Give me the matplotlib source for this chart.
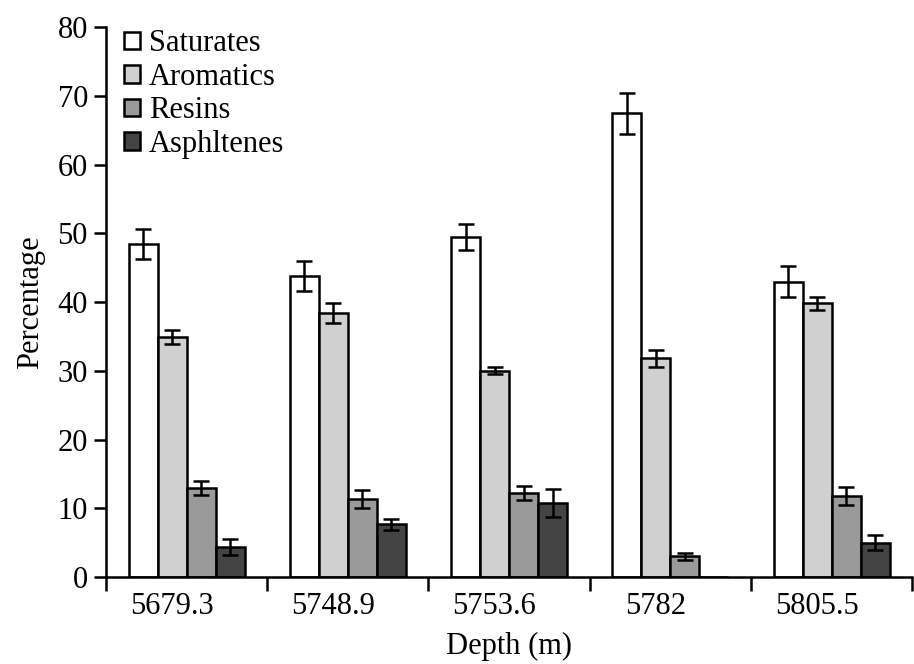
import numpy as np
import matplotlib

matplotlib.use("Agg")
import matplotlib.pyplot as plt
from matplotlib.transforms import ScaledTranslation

plt.rcParams["font.family"] = ["Liberation Serif", "DejaVu Serif"]

depths = ["5679.3", "5748.9", "5753.6", "5782", "5805.5"]
fractions = ["Saturates", "Aromatics", "Resins", "Asphltenes"]

saturates = [48.5, 43.8, 49.5, 67.5, 43.0]
saturates_err = [2.2, 2.2, 1.9, 3.0, 2.3]
aromatics = [34.9, 38.4, 30.0, 31.8, 39.8]
aromatics_err = [1.0, 1.4, 0.5, 1.3, 1.0]
resins = [13.0, 11.4, 12.2, 3.0, 11.8]
resins_err = [1.0, 1.3, 1.0, 0.5, 1.3]
asphaltenes = [4.4, 7.7, 10.8, 0.0, 5.0]
asphaltenes_err = [1.2, 0.8, 2.0, 0.0, 1.1]

values = [saturates, aromatics, resins, asphaltenes]
errors = [saturates_err, aromatics_err, resins_err, asphaltenes_err]
colors = ["white", "#d0d0d0", "#9a9a9a", "#444444"]

fig = plt.figure(figsize=(9.14, 6.64), dpi=100)
ax = fig.add_axes([0.116, 0.131, 0.882, 0.828])

x = np.arange(len(depths))
w = 0.18
for i, (vals, errs, c, lab) in enumerate(zip(values, errors, colors, fractions)):
    pos = x + (i - 1.5) * w
    ax.bar(pos, vals, w, color=c, edgecolor="black", linewidth=1.8, label=lab, zorder=2)
    e = np.array(errs)
    m = e > 0
    ax.errorbar(pos[m], np.array(vals)[m], yerr=e[m], fmt="none", ecolor="black",
                elinewidth=1.8, capsize=6, capthick=1.8, zorder=3)

ax.set_xlim(-0.5, len(depths) - 0.5)
ax.set_ylim(0, 80)
ax.set_yticks(range(0, 81, 10))
ax.set_xticks(x)
ax.set_xticklabels(depths)
ax.set_xticks(np.arange(-0.5, len(depths)), minor=True)
ax.tick_params(axis="x", which="major", length=0, labelsize=22, pad=11)
ax.tick_params(axis="x", which="minor", length=10, width=1.8, direction="out")
ax.tick_params(axis="y", length=9, width=1.8, labelsize=22, pad=4)
# labels in the source sit a little left of the group centres
shift = ScaledTranslation(-15 / 100, 0, fig.dpi_scale_trans)
for t in ax.get_xticklabels():
    t.set_transform(t.get_transform() + shift)
ax.spines["top"].set_visible(False)
ax.spines["right"].set_visible(False)
ax.spines["left"].set_linewidth(1.8)
ax.spines["bottom"].set_linewidth(1.8)

ax.set_xlabel("Depth (m)", fontsize=22, labelpad=8)
ax.set_ylabel("Percentage", fontsize=22, labelpad=9)

ax.legend(loc="upper left", bbox_to_anchor=(0.0, 1.03), frameon=False, fontsize=22,
          handlelength=0.5, handleheight=0.5, handletextpad=0.3, labelspacing=0.15,
          borderaxespad=0.2)

fig.savefig("out.png", dpi=100)
